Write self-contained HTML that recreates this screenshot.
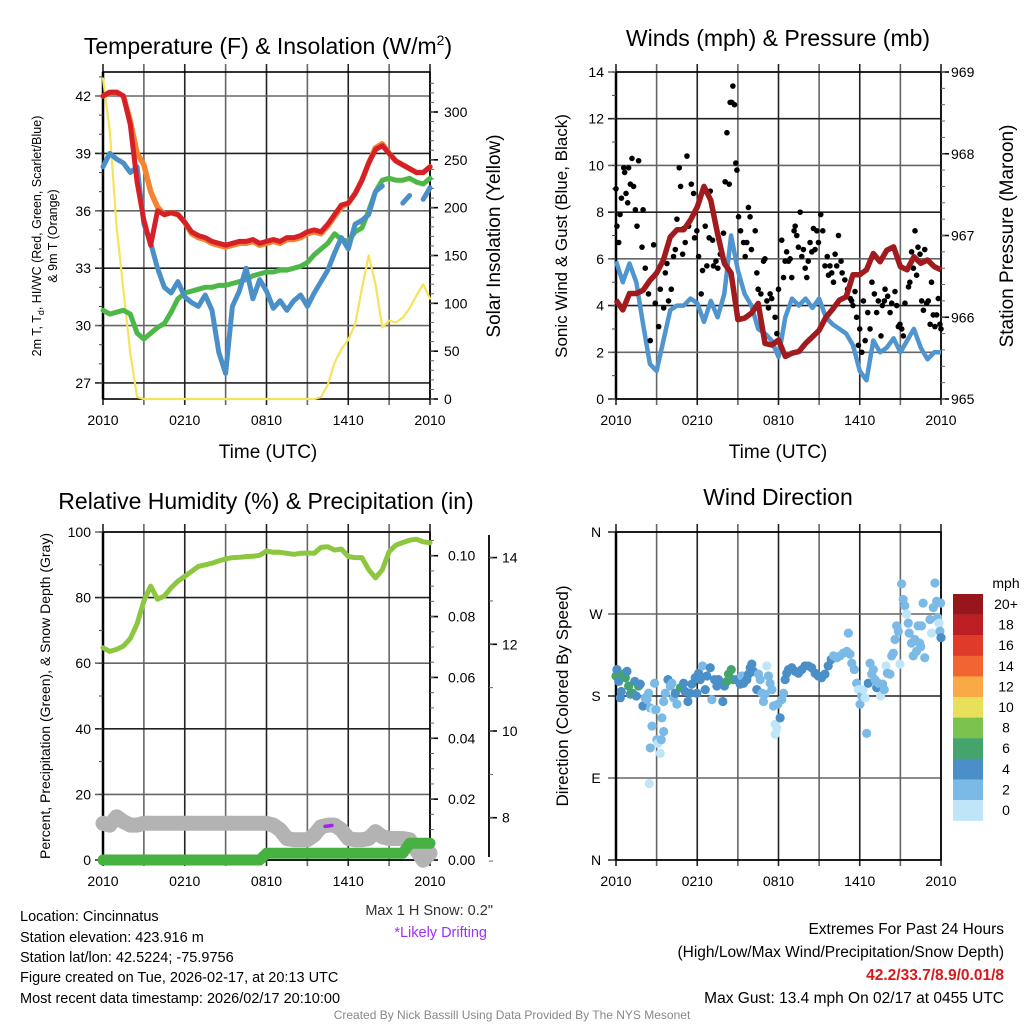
<!DOCTYPE html>
<html><head><meta charset="utf-8"><style>
html,body{margin:0;padding:0;background:#fff;}
svg{display:block;font-family:"Liberation Sans",Arial,sans-serif;}
</style></head><body>
<svg id="chart" xmlns="http://www.w3.org/2000/svg" width="1024" height="1024" viewBox="0 0 1024 1024">
<rect x="0" y="0" width="1024" height="1024" fill="#fff"/>
<g id="layer"></g>
<text x="268" y="54" font-size="23" text-anchor="middle">Temperature (F) &amp; Insolation (W/m<tspan dy="-9" font-size="14">2</tspan><tspan dy="9">)</tspan></text>
<text x="778" y="46" font-size="23" text-anchor="middle">Winds (mph) &amp; Pressure (mb)</text>
<text x="266" y="509" font-size="23" text-anchor="middle">Relative Humidity (%) &amp; Precipitation (in)</text>
<text x="778" y="505" font-size="23" text-anchor="middle">Wind Direction</text>
<text x="268" y="458" font-size="19" text-anchor="middle">Time (UTC)</text>
<text x="778" y="458" font-size="19" text-anchor="middle">Time (UTC)</text>
<text transform="translate(41,236) rotate(-90)" font-size="12.5" text-anchor="middle">2m T, T<tspan font-size="9" dy="3">d</tspan><tspan dy="-3">, HI/WC (Red, Green, Scarlet/Blue)</tspan></text>
<text transform="translate(57,236) rotate(-90)" font-size="12.5" text-anchor="middle">&amp; 9m T (Orange)</text>
<text transform="translate(500,236) rotate(-90)" font-size="19" text-anchor="middle">Solar Insolation (Yellow)</text>
<text transform="translate(567,236) rotate(-90)" font-size="17" text-anchor="middle">Sonic Wind &amp; Gust (Blue, Black)</text>
<text transform="translate(1013,236) rotate(-90)" font-size="19" text-anchor="middle">Station Pressure (Maroon)</text>
<text transform="translate(50,696) rotate(-90)" font-size="14" text-anchor="middle">Percent, Precipitation (Green), &amp; Snow Depth (Gray)</text>
<text transform="translate(568,696) rotate(-90)" font-size="17" text-anchor="middle">Direction (Colored By Speed)</text>
<text x="493" y="915" font-size="14.5" fill="#333" text-anchor="end">Max 1 H Snow: 0.2"</text>
<text x="487" y="937" font-size="14.5" fill="#9b30ff" text-anchor="end">*Likely Drifting</text>
<g font-size="14.5">
<text x="20" y="921">Location: Cincinnatus</text>
<text x="20" y="942">Station elevation: 423.916 m</text>
<text x="20" y="962">Station lat/lon: 42.5224; -75.9756</text>
<text x="20" y="982">Figure created on Tue, 2026-02-17, at 20:13 UTC</text>
<text x="20" y="1003">Most recent data timestamp: 2026/02/17 20:10:00</text>
</g>
<g font-size="15.5" text-anchor="end">
<text x="1004" y="934">Extremes For Past 24 Hours</text>
<text x="1004" y="957">(High/Low/Max Wind/Precipitation/Snow Depth)</text>
<text x="1004" y="980" fill="#d7191c" font-weight="bold">42.2/33.7/8.9/0.01/8</text>
<text x="1004" y="1003">Max Gust: 13.4 mph On 02/17 at 0455 UTC</text>
</g>
<text x="512" y="1019" font-size="12" fill="#888" text-anchor="middle">Created By Nick Bassill Using Data Provided By The NYS Mesonet</text>
</svg>
<script>
// ---- data (half-hourly, 24 h window) ----
const xTickLabels = ["2010","0210","0810","1410","2010"];
const tempRed = [42.0,42.2,42.2,42.0,40.5,37.5,35.5,34.2,36.0,35.8,35.9,35.8,35.4,34.9,34.7,34.6,34.4,34.3,34.2,34.3,34.4,34.4,34.5,34.3,34.4,34.5,34.4,34.6,34.6,34.7,34.9,35.0,34.9,35.3,35.8,36.3,36.4,36.9,37.6,38.5,39.2,39.4,39.0,38.6,38.4,38.2,38.0,38.0,38.3];
const temp9m = [42.0,42.2,42.2,42.0,40.7,39.0,38.4,37.0,36.2,35.8,35.9,35.8,35.4,34.8,34.6,34.5,34.3,34.2,34.1,34.2,34.3,34.3,34.4,34.2,34.3,34.4,34.3,34.5,34.5,34.6,34.8,34.9,34.8,35.2,35.7,36.2,36.4,36.9,37.6,38.5,39.3,39.5,39.0,38.6,38.4,38.2,38.0,38.0,38.3];
const tempChill = [38.3,39.0,38.7,38.5,38.0,38.3,35.3,34.3,33.0,32.0,31.7,32.3,31.5,31.2,31.0,31.6,30.8,28.6,27.5,31.0,31.8,33.0,31.4,32.4,31.8,30.9,31.3,30.8,31.3,31.6,31.0,31.7,32.3,32.9,33.8,34.6,34.0,35.3,35.5,35.8,37.0,37.3,null,null,36.4,36.8,null,36.6,37.2];
const dewPoint = [30.8,30.6,30.7,30.8,30.6,29.6,29.3,29.6,29.9,30.1,30.7,31.4,31.7,31.8,31.9,32.0,32.0,32.1,32.1,32.2,32.3,32.4,32.6,32.7,32.8,32.8,32.9,32.9,33.0,33.1,33.3,33.7,34.0,34.3,34.8,34.5,34.4,34.9,35.1,36.0,37.0,37.6,37.7,37.6,37.6,37.7,37.5,37.4,37.7];
const solar = [335,280,180,114,48,2,0,0,0,0,0,0,0,0,0,0,0,0,0,0,0,0,0,0,0,0,0,0,0,0,0,0,2,15,38,52,62,78,115,150,120,75,82,80,85,95,108,120,105];
const tempTicks = [27,30,33,36,39,42];
const solarTicks = [0,50,100,150,200,250,300];
const windSpeed = [5.9,5.0,5.8,5.0,3.2,1.5,1.2,2.5,3.8,4.0,4.0,4.3,4.1,3.3,4.2,3.5,4.5,7.0,5.5,4.5,4.0,3.0,2.8,2.5,1.8,3.5,4.3,4.0,4.3,3.9,4.3,3.5,3.2,3.0,2.8,2.3,1.2,0.8,2.5,2.0,2.2,2.6,2.0,2.5,3.0,2.2,1.7,2.0,2.0];
const pressure = [966.21,966.09,966.29,966.29,966.33,966.45,966.54,966.70,966.98,967.07,967.07,967.19,967.35,967.60,967.43,967.02,966.66,966.54,965.97,965.99,966.05,966.17,965.68,965.66,965.72,965.52,965.56,965.58,965.68,965.76,965.84,966.00,966.10,966.21,966.25,966.52,966.52,966.58,966.78,966.68,966.82,966.86,966.62,966.58,966.74,966.66,966.70,966.62,966.58];
const gustTimes = [0,0.07,0.2,0.3,0.4,0.57,0.64,0.74,0.86,0.93,1.06,1.18,1.3,1.43,1.55,1.67,1.92,2.0,2.16,2.4,2.53,2.78,2.9,3.15,3.27,3.52,3.64,3.76,3.88,4.08,4.25,4.38,4.5,4.67,4.77,4.92,5.0,5.11,5.24,5.36,5.56,5.73,5.8,5.97,6.1,6.29,6.39,6.59,6.71,6.88,6.96,7.13,7.2,7.38,7.52,7.7,7.94,8.06,8.19,8.36,8.43,8.55,8.63,8.75,8.85,8.93,9.05,9.2,9.42,9.54,9.66,9.78,9.9,10.0,10.28,10.4,10.5,10.7,10.9,11.0,11.14,11.26,11.38,11.5,11.75,11.88,12.0,12.24,12.37,12.49,12.6,12.74,12.86,12.98,13.15,13.23,13.35,13.47,13.6,13.72,13.84,13.97,14.09,14.2,14.33,14.46,14.58,14.7,14.83,14.95,15.12,15.27,15.43,15.6,15.69,15.8,15.93,16.06,16.18,16.3,16.43,16.62,16.7,16.9,17.1,17.3,17.4,17.5,17.65,17.77,17.9,18.0,18.15,18.27,18.4,18.59,18.76,18.9,19.08,19.25,19.37,19.57,19.67,19.82,19.87,20.06,20.24,20.36,20.6,20.73,20.85,20.97,21.1,21.22,21.34,21.6,21.7,21.83,21.96,22.08,22.2,22.3,22.45,22.57,22.7,22.8,22.94,23.06,23.2,23.3,23.43,23.55,23.68,23.8,23.92,24.0];
const gustValues = [9.0,7.4,6.7,7.9,8.6,9.9,9.7,8.8,8.4,9.9,9.2,10.3,9.1,8.1,7.4,10.2,6.5,8.1,5.6,4.5,2.5,6.6,4.1,3.1,4.7,3.9,5.4,5.8,4.2,4.7,6.1,6.4,7.7,9.9,9.1,6.2,7.3,6.7,10.4,7.4,9.2,8.8,6.9,7.2,6.1,4.5,5.5,7.4,5.7,6.9,8.9,6.8,5.7,5.9,5.6,6.2,7.1,9.3,11.4,9.2,12.7,12.7,13.4,12.6,10.1,9.8,7.8,7.2,6.7,6.1,6.7,8.2,7.8,6.4,7.2,5.4,4.7,4.5,5.9,6.0,4.2,3.9,4.5,4.3,3.5,2.8,4.7,6.8,5.2,5.9,6.3,5.9,6.0,5.2,7.2,7.4,7.0,6.5,8.0,6.1,6.4,5.6,5.2,5.9,6.7,6.3,7.3,6.4,7.2,6.7,7.9,7.2,5.7,6.1,5.3,5.7,5.4,5.0,6.2,5.7,7.0,5.9,5.4,5.1,4.7,4.3,4.2,4.0,4.6,3.5,2.3,3.0,2.0,4.2,2.5,3.7,3.0,5.0,4.5,3.7,4.2,2.7,4.0,4.2,4.7,4.4,3.7,4.1,4.6,4.0,3.1,3.2,3.0,2.7,4.1,4.8,5.0,6.3,5.6,7.2,5.3,6.5,6.2,4.2,3.8,6.4,4.1,4.2,3.2,5.0,3.6,3.1,3.6,4.3,3.2,3.0];
const windTicks = [0,2,4,6,8,10,12,14];
const pressureTicks = [965,966,967,968,969];
const rhValues = [64.7,63.6,64.2,65.2,67.5,72,79,83.5,79.5,80.5,83,85,86.5,88,89.5,90,90.5,91.2,91.8,92.2,92.3,92.5,92.6,92.9,94.2,93.8,93.8,93.5,93.2,93.5,93.6,93.5,95.3,95.5,94.5,94.8,92.5,92.2,92.2,88.5,86.0,88.5,94,96,96.8,97.5,97.8,97.0,96.7];
const snowDepth = [7.87,7.83,8.02,7.91,7.83,7.83,7.87,7.87,7.87,7.87,7.87,7.87,7.87,7.87,7.87,7.87,7.87,7.87,7.87,7.87,7.87,7.87,7.87,7.87,7.87,7.83,7.72,7.52,7.49,7.49,7.49,7.60,7.79,7.83,7.83,7.72,7.52,7.49,7.49,7.52,7.68,7.56,7.52,7.52,7.52,7.49,7.25,7.02,7.18];
const precip = [0,0,0,0,0,0,0,0,0,0,0,0,0,0,0,0,0,0,0,0,0,0,0,0,0.0022,0.0022,0.0022,0.0022,0.0022,0.0022,0.0022,0.0022,0.0022,0.0022,0.0022,0.0022,0.0022,0.0022,0.0022,0.0022,0.0022,0.0022,0.0022,0.0022,0.0022,0.0055,0.0055,0.0055,0.0055];
const driftTimes = [16.3,16.8];
const driftValues = [7.80,7.82];
const rhTicks = [0,20,40,60,80,100];
const precipTicks = ["0.00","0.02","0.04","0.06","0.08","0.10"];
const snowTicks = [8,10,12,14];
const dirTimes = [0,0.07,0.2,0.32,0.39,0.57,0.69,0.81,0.93,1.06,1.23,1.38,1.5,1.67,1.79,1.99,2.16,2.29,2.41,2.53,2.66,2.78,2.85,2.95,2.53,2.46,3.02,3.1,3.27,3.34,3.39,3.52,3.52,3.64,3.84,4.01,4.13,4.26,4.38,4.5,4.75,4.99,5.11,5.31,5.48,5.6,5.85,5.97,6.1,6.22,6.39,6.59,6.71,6.96,7.08,7.28,7.45,7.57,7.69,7.89,8.01,8.19,8.31,8.51,8.68,8.93,9.17,9.29,9.42,9.66,9.79,9.91,10.03,10.15,10.4,10.52,10.65,10.77,10.89,11.01,11.14,11.26,11.38,11.51,11.63,11.75,11.75,11.87,11.95,12.12,12.24,12.37,12.49,12.61,12.74,12.98,13.23,13.47,13.72,13.96,14.2,14.45,14.7,14.94,15.18,15.43,15.67,15.89,16.06,16.3,16.55,16.79,17.04,17.16,17.28,17.41,17.6,17.77,17.9,18.02,18.14,18.26,18.39,18.51,18.63,18.76,18.88,19.0,19.12,19.25,19.37,19.54,19.69,19.81,19.94,20.04,20.23,20.36,20.48,20.6,20.72,20.85,20.97,21.09,21.21,21.33,21.46,21.58,21.65,21.82,21.95,22.07,22.19,22.31,22.43,22.5,22.56,22.68,22.8,22.9,23.05];
const dirValues = [202,209,196,178,185,204,200,207,191,182,183,196,180,191,193,169,178,176,183,167,147,165,194,165,123,84,132,128,117,132,156,141,174,183,198,191,194,178,183,171,189,194,185,174,183,193,200,183,205,198,213,187,202,211,176,198,191,198,194,174,191,196,204,209,198,198,193,202,194,198,204,211,215,207,187,204,198,183,174,182,213,202,194,187,169,149,138,145,171,156,176,183,198,205,209,211,207,205,209,213,213,211,205,202,200,204,213,220,224,222,224,227,229,249,226,216,209,194,187,171,180,187,178,139,194,216,204,209,198,189,194,180,193,187,213,205,204,224,227,242,257,251,215,303,286,279,270,260,249,238,224,242,229,257,238,234,257,282,222];
const dirSpeeds = [7,5,5,5,5,7,7,5,7,5,7,5,5,7,5,5,3,3,3,3,3,1,3,3,3,1,3,1,1,3,3,3,3,3,5,3,3,3,5,3,7,5,5,5,5,5,5,5,5,5,3,5,5,5,3,5,5,5,5,5,5,7,7,7,7,5,5,3,5,5,5,5,5,5,5,3,3,3,3,3,1,3,3,3,3,1,1,1,3,5,3,3,5,5,5,5,5,5,5,5,5,5,5,5,5,5,5,5,3,3,3,3,3,3,3,3,3,3,1,3,3,1,1,3,5,3,3,3,3,5,3,1,3,3,1,3,3,3,3,3,3,3,1,3,3,3,1,3,3,3,3,3,3,3,3,3,3,3,3];
const dirTimes2 = [23.18,23.3,23.43,23.55,23.68,23.75,23.85,23.92,24.0,23.97];
const dirValues2 = [264,249,277,304,284,266,260,251,244,282];
const dirSpeeds2 = [3,1,3,3,3,3,1,3,5,3];
const dirTickLabels = ["N","E","S","W","N"];
const speedLabels = ["20+","18","16","14","12","10","8","6","4","2","0"];
const speedColors = ["#97161b","#bd1e24","#e03a2b","#f26430","#f9a945","#e8e05a","#7cc24f","#45a46c","#4a8fc8","#7bbae6","#bfe6f8"];

// ---- drawing ----
const NS = "http://www.w3.org/2000/svg";
const layer = document.getElementById("layer");
function mk(tag, attrs, parent){ const e=document.createElementNS(NS,tag); for(const k in attrs) e.setAttribute(k,attrs[k]); (parent||layer).appendChild(e); return e; }
function linePath(vals, xf, yf){ let d="", pen=false; vals.forEach((v,i)=>{ if(v===null||v===undefined){pen=false;return;} d+=(pen?"L":"M")+xf(i).toFixed(1)+" "+yf(v).toFixed(1); pen=true; }); return d; }
function valid(v){ return typeof v === "number" && isFinite(v); }

const panels = {
  temp:{x0:103,x1:430,y0:72,y1:399},
  wind:{x0:616,x1:941,y0:72,y1:399},
  rh:{x0:103,x1:430,y0:532,y1:860},
  dir:{x0:616,x1:941,y0:532,y1:860}
};
function xScale(p){ return t => p.x0 + t/24*(p.x1-p.x0); }
function halfHourX(p){ const xs=xScale(p); return i => xs(i*0.5); }

function frame(p, name, hLines){
  const g = mk("g",{});
  
  
  const xs = xScale(p);
  for(let h=0; h<=24; h+=3){
    const x = xs(h);
    const l = mk("line",{x1:x,x2:x,y1:p.y0-8,y2:p.y1+6,stroke:(h%6===0)?"#222":"#666","stroke-width":1.6},g);
    
    
  }
  hLines.forEach((y,i)=>{
    const l = mk("line",{x1:p.x0-8,x2:p.x1,y1:y,y2:y,stroke:(i%2)?"#666":"#222","stroke-width":1.6},g);
    
    
  });
  const r = mk("rect",{x:p.x0,y:p.y0,width:p.x1-p.x0,height:p.y1-p.y0,fill:"none",stroke:"#000","stroke-width":1.6},g);
  
  
  mk("line",{x1:p.x0,x2:p.x0,y1:p.y0,y2:p.y1,stroke:"#000","stroke-width":2.5},g);
  xTickLabels.forEach((lab,i)=>{
    const t = mk("text",{x:xs(i===0?0:i*6),y:p.y1+26,"font-size":14,"text-anchor":"middle"},g);
    t.textContent = lab;
    
    
  });
}
function leftTicks(p, vals, yf, fmt, name, minorStep, lo, hi){
  vals.forEach(v=>{
    const t = mk("text",{x:p.x0-12,y:yf(v)+5,"font-size":14,"text-anchor":"end"});
    t.textContent = fmt(v);
    
    
  });
  if(minorStep){ for(let v=lo; v<=hi+1e-9; v+=minorStep){ mk("line",{x1:p.x0-4,x2:p.x0,y1:yf(v),y2:yf(v),stroke:"#444","stroke-width":1}); } }
}
function rightTicks(x, vals, yf, fmt, name, minorStep, lo, hi, labelX){
  vals.forEach(v=>{
    mk("line",{x1:x,x2:x+8,y1:yf(v),y2:yf(v),stroke:"#000","stroke-width":1.6});
    const t = mk("text",{x:labelX,y:yf(v)+5,"font-size":14});
    t.textContent = fmt(v);
    
    
  });
  if(minorStep){ for(let v=lo; v<=hi+1e-9; v+=minorStep){ mk("line",{x1:x,x2:x+4,y1:yf(v),y2:yf(v),stroke:"#666","stroke-width":1}); } }
}

// Panel 1: temperature
(function(){
  const p = panels.temp;
  const yT = v => 96 + (42-v)*19.13;
  const yS = v => 399 - v*(287/300);
  const xi = halfHourX(p);
  frame(p, "temp", tempTicks.map(yT));
  leftTicks(p, tempTicks, yT, v=>String(v), "temp-y", 1, 27, 43);
  rightTicks(p.x1, solarTicks, yS, v=>String(v), "solar-y", 10, 0, 330, p.x1+14);
  const series = [
    {vals:solar, col:"#f7e35a", w:2.2, name:"solar-insolation-line"},
    {vals:dewPoint, col:"#4db848", w:5, name:"dewpoint-line"},
    {vals:tempChill, col:"#4b8fc8", w:5, name:"windchill-line"},
    {vals:temp9m, col:"#f58431", w:5.5, name:"temp-9m-line"},
    {vals:tempRed, col:"#d62028", w:5, name:"temp-2m-line"}
  ];
  series.forEach(s=>{
    const yf = s.vals===solar ? yS : yT;
    const path = mk("path",{d:linePath(s.vals, xi, yf),fill:"none",stroke:s.col,"stroke-width":s.w,"stroke-linejoin":"round","stroke-linecap":"round"});
    
    
  });
})();

// Panel 2: wind & pressure
(function(){
  const p = panels.wind;
  const yW = v => 399 - v*(327/14);
  const yP = v => 399 - (v-965)*(327/4);
  const xi = halfHourX(p), xs = xScale(p);
  frame(p, "wind", windTicks.map(yW));
  leftTicks(p, windTicks, yW, v=>String(v), "wind-y", 1, 0, 14);
  rightTicks(p.x1, pressureTicks, yP, v=>String(v), "pressure-y", 0.2, 965, 969, p.x1+10);
  const w = mk("path",{d:linePath(windSpeed, xi, yW),fill:"none",stroke:"#4f95d0","stroke-width":4.5,"stroke-linejoin":"round"});
  
  
  gustTimes.forEach((t,i)=>{
    const v = gustValues[i];
    if(!valid(v) || !valid(t)) return;
    const c = mk("circle",{cx:xs(t),cy:yW(v),r:2.8,fill:"#000"});
    
    
  });
  const pr = mk("path",{d:linePath(pressure, xi, yP),fill:"none",stroke:"#a11a1d","stroke-width":5.5,"stroke-linejoin":"round"});
  
  
})();

// Panel 3: RH, precip, snow
(function(){
  const p = panels.rh;
  const yR = v => 860 - v*3.28;
  const yPr = v => 860 - v*3043;
  const ySn = v => 817.7 - (v-8)*43.35;
  const xi = halfHourX(p), xs = xScale(p);
  frame(p, "rh", rhTicks.map(yR));
  leftTicks(p, rhTicks, yR, v=>String(v), "rh-y", 10, 0, 100);
  rightTicks(p.x1, precipTicks.map(Number), yPr, v=>v.toFixed(2), "precip-y", 0.005, 0, 0.105, p.x1+18);
  const ax = mk("line",{x1:489,x2:489,y1:535,y2:857,stroke:"#000","stroke-width":1.8});
  
  
  rightTicks(489, snowTicks, ySn, v=>String(v), "snow-y", 1, 7, 14.5, 502);
  const sn = mk("path",{d:linePath(snowDepth, xi, ySn),fill:"none",stroke:"#b3b3b3","stroke-width":15,"stroke-linejoin":"round","stroke-linecap":"round"});
  
  
  const dr = mk("path",{d:linePath(driftValues, i=>xs(driftTimes[i]), ySn),fill:"none",stroke:"#a020f0","stroke-width":3.5,"stroke-linecap":"round"});
  
  
  const pc = mk("path",{d:linePath(precip, xi, yPr),fill:"none",stroke:"#46b041","stroke-width":11,"stroke-linejoin":"round","stroke-linecap":"round"});
  
  
  const rh = mk("path",{d:linePath(rhValues, xi, yR),fill:"none",stroke:"#8dc63f","stroke-width":5,"stroke-linejoin":"round","stroke-linecap":"round"});
  
  
})();

// Panel 4: wind direction
(function(){
  const p = panels.dir;
  const yD = v => 860 - v*(328/360);
  const xs = xScale(p);
  const dirTickVals = [0,90,180,270,360];
  frame(p, "dir", dirTickVals.map(yD));
  dirTickVals.forEach((v,i)=>{
    const t = mk("text",{x:p.x0-20,y:yD(v)+5,"font-size":14,"text-anchor":"middle"});
    t.textContent = dirTickLabels[i];
    
    
  });
  const colorFor = s => speedColors[10-Math.min(10,Math.floor(s/2))];
  function dots(times, vals, speeds){
    times.forEach((t,i)=>{
      const v = vals[i], s = speeds[i];
      if(!valid(v) || !valid(t) || !valid(s)) return;
      const c = mk("circle",{cx:xs(t),cy:yD(v),r:4.6,fill:colorFor(s)});
      
      
    });
  }
  dots(dirTimes, dirValues, dirSpeeds);
  dots(dirTimes2, dirValues2, dirSpeeds2);
  // colorbar
  const cb = mk("g",{});
  
  
  const u = mk("text",{x:1006,y:588,"font-size":14,"text-anchor":"middle"},cb);
  u.textContent = "mph";
  
  
  speedLabels.forEach((lab,i)=>{
    const y0 = 594 + i*20.6;
    const r = mk("rect",{x:953,y:y0,width:30,height:20.8,fill:speedColors[i]},cb);
    
    
    const t = mk("text",{x:1006,y:y0+15,"font-size":14,"text-anchor":"middle"},cb);
    t.textContent = lab;
    
    
  });
})();
</script>
</body></html>
